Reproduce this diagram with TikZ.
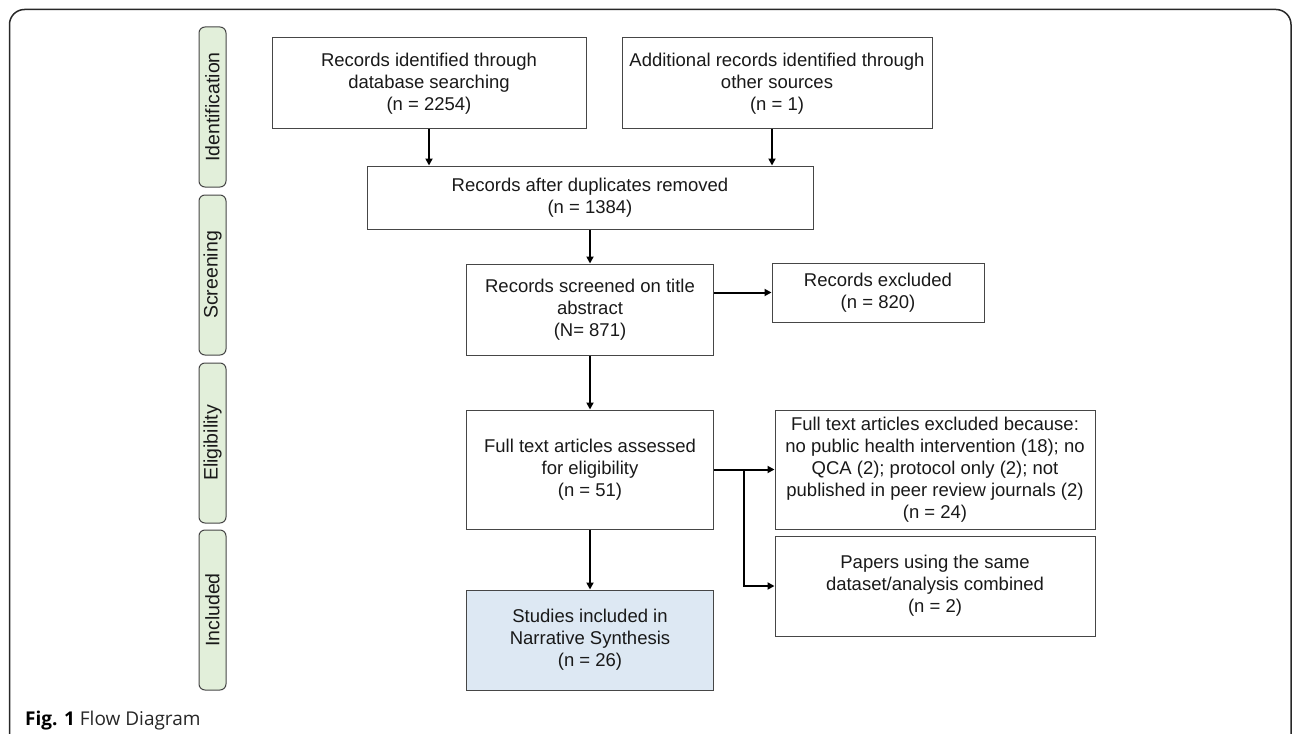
\documentclass[tikz,border=0pt]{standalone}
\usepackage{fontspec}
\setmainfont{Liberation Sans}
\newfontfamily\capfont{Open Sans}
\usetikzlibrary{arrows.meta}
\definecolor{boxgray}{RGB}{70,70,70}
\definecolor{labgreen}{RGB}{226,239,218}
\definecolor{incblue}{RGB}{221,232,243}
\definecolor{framegray}{RGB}{40,40,40}
\begin{document}
\begin{tikzpicture}[x=1pt,y=-1pt,
  box/.style={draw=boxgray, line width=1pt, align=center, inner sep=0pt,
    font=\fontsize{18.5}{22}\selectfont, text=black!90},
  stage/.style={draw=boxgray, line width=1pt, fill=labgreen, rounded corners=6pt,
    rotate=90, minimum width=160pt, minimum height=27pt, inner sep=0pt,
    font=\fontsize{19.5}{22}\selectfont, text=black!90},
  arr/.style={line width=2pt, -{Triangle[length=7pt,width=7pt]}},
  conn/.style={line width=2pt}]
\useasboundingbox (0,0) rectangle (1292,733);
\draw[framegray, line width=1.5pt, rounded corners=15pt] (9.5,9.5) rectangle (1291,780);

% stage labels
\node[stage] (sid) at (212.5,107) {Identification};
\node[stage] (ssc) at (212.5,275) {Screening};
\node[stage] (sel) at (212.5,443) {Eligibility};
\node[stage] (sin) at (212.5,610) {Included};

% boxes
\node[box, minimum width=314pt, minimum height=91pt] (b1) at (429,83.5)
  {Records identified through\\database searching\\(n = 2254)};
\node[box, minimum width=310pt, minimum height=91pt] (b2) at (777,83.5)
  {Additional records identified through\\other sources\\(n = 1)};
\node[box, minimum width=446pt, minimum height=63pt] (b3) at (590,197.5)
  {Records after duplicates removed\\(n = 1384)};
\node[box, minimum width=247pt, minimum height=91pt] (b4) at (590,309.5)
  {Records screened on title\\abstract\\(N= 871)};
\node[box, minimum width=212pt, minimum height=59pt] (b5) at (878,292.5)
  {Records excluded\\(n = 820)};
\node[box, minimum width=247pt, minimum height=119pt] (b6) at (590,469.5)
  {Full text articles assessed\\for eligibility\\(n = 51)};
\node[box, minimum width=320pt, minimum height=119pt] (b7) at (935,469.5)
  {Full text articles excluded because:\\no public health intervention (18); no\\QCA (2); protocol only (2); not\\published in peer review journals (2)\\(n = 24)};
\node[box, minimum width=320pt, minimum height=100pt] (b8) at (935,586)
  {Papers using the same\\dataset/analysis combined\\(n = 2)};
\node[box, fill=incblue, minimum width=247pt, minimum height=100pt] (b9) at (590,640)
  {Studies included in\\Narrative Synthesis\\(n = 26)};

% connectors
\coordinate (a2) at (772,129);
\draw[arr] (b1.south) -- (b1.south |- b3.north);
\draw[arr] (a2) -- (a2 |- b3.north);
\draw[arr] (b3.south) -- (b4.north);
\draw[arr] (b4.east |- b5.west) -- (b5.west);
\draw[arr] (b4.south) -- (b6.north);
\draw[arr] (b6.east) -- (b7.west);
\coordinate (br) at (744,469.5);
\draw[arr] (br) |- (b8.west);
\draw[arr] (b6.south) -- (b9.north);

% caption
\node[anchor=base west, inner sep=0pt, font=\capfont\fontsize{19}{22}\selectfont, text=black!85] (cap) at (25,725)
  {\textbf{\color{black}Fig. 1} Flow Diagram};
\end{tikzpicture}
\end{document}
